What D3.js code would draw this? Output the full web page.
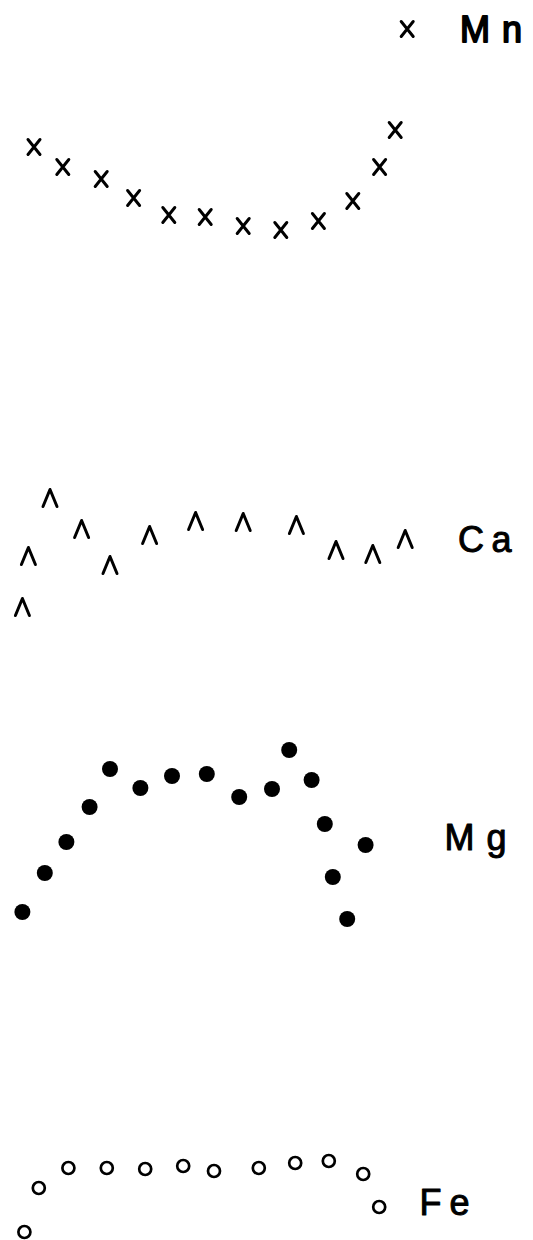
<!DOCTYPE html>
<html>
<head>
<meta charset="utf-8">
<script src="https://cdn.jsdelivr.net/npm/d3@7"></script>
<style>
  html, body { margin: 0; padding: 0; background: #fff; }
  svg { display: block; }
</style>
</head>
<body>
<svg id="chart" width="533" height="1240"></svg>
<script>
// Element profiles across the traverse (distance, relative content)

// Mn — crosses
const mnDist  = [3.5, 10.7, 20.3, 28.4, 37.2, 46.3, 55.8, 65.2, 74.6, 83.2, 89.9, 93.8, 96.8];
const mnValue = [11.3, 9.3, 8.1, 6.2, 4.5, 4.3, 3.4, 3.0, 3.9, 5.9, 9.3, 13.0, 23.1];

// Ca — carets
const caDist  = [0.6, 2.1, 7.5, 15.4, 22.5, 32.4, 43.9, 55.8, 69.1, 79.0, 88.2, 96.3];
const caValue = [1.3, 6.4, 12.2, 9.1, 5.5, 8.5, 9.9, 9.8, 9.5, 7.0, 6.6, 8.1];

// Mg — filled dots
const mgDist  = [0.6, 6.2, 11.6, 17.4, 22.5, 30.1, 38.0, 46.7, 54.8, 63.0, 67.3, 72.9, 76.2, 78.2, 81.8, 86.4];
const mgValue = [1.8, 5.7, 8.8, 12.3, 16.1, 14.2, 15.4, 15.6, 13.3, 14.1, 18.0, 15.0, 10.6, 5.3, 1.1, 8.5];

// Fe — open circles
const feDist  = [1.1, 4.7, 12.1, 21.7, 31.3, 40.8, 48.5, 59.7, 68.8, 77.2, 85.8, 89.8];
const feValue = [0.8, 5.2, 7.2, 7.2, 7.1, 7.4, 6.9, 7.2, 7.7, 7.9, 6.6, 3.3];

const elementNames = ["Mn", "Ca", "Mg", "Fe"];

const svg = d3.select("#chart");

// shared horizontal scale for the traverse
const x = d3.scaleLinear().domain([0, 100]).range([20, 420]);

// each element gets its own vertical band
const yMn = d3.scaleLinear().domain([0, 25]).range([260, 10]);
const yCa = d3.scaleLinear().domain([0, 15]).range([620, 470]);
const yMg = d3.scaleLinear().domain([0, 20]).range([930, 730]);
const yFe = d3.scaleLinear().domain([0, 10]).range([1240, 1140]);

const zip = (a, b) => a.map((d, i) => ({ d, v: b[i] }));

// Mn crosses
const cw = 6, ch = 7.5;
svg.append("g")
  .selectAll("path")
  .data(zip(mnDist, mnValue))
  .join("path")
  .attr("d", p => {
    const cx = x(p.d), cy = yMn(p.v);
    return `M${cx - cw},${cy - ch}L${cx + cw},${cy + ch}M${cx + cw},${cy - ch}L${cx - cw},${cy + ch}`;
  })
  .attr("fill", "none")
  .attr("stroke", "#000")
  .attr("stroke-width", 3)
  .attr("stroke-linecap", "round");

// Ca carets
const aw = 7, ah = 8.5;
svg.append("g")
  .selectAll("path")
  .data(zip(caDist, caValue))
  .join("path")
  .attr("d", p => {
    const cx = x(p.d), cy = yCa(p.v);
    return `M${cx - aw},${cy + ah}L${cx},${cy - ah}L${cx + aw},${cy + ah}`;
  })
  .attr("fill", "none")
  .attr("stroke", "#000")
  .attr("stroke-width", 3)
  .attr("stroke-linecap", "round")
  .attr("stroke-linejoin", "round");

// Mg filled dots
svg.append("g")
  .selectAll("circle")
  .data(zip(mgDist, mgValue))
  .join("circle")
  .attr("cx", p => x(p.d))
  .attr("cy", p => yMg(p.v))
  .attr("r", 8)
  .attr("fill", "#000");

// Fe open circles
svg.append("g")
  .selectAll("circle")
  .data(zip(feDist, feValue))
  .join("circle")
  .attr("cx", p => x(p.d))
  .attr("cy", p => yFe(p.v))
  .attr("r", 6)
  .attr("fill", "#fff")
  .attr("stroke", "#000")
  .attr("stroke-width", 2.7);

// element labels
const labelLayout = {
  Mn: { x: 460,   y: 42,   spacing: 12,  stroke: 1.8 },
  Ca: { x: 458,   y: 552,  spacing: 7.6, stroke: 1.0 },
  Mg: { x: 444.5, y: 850,  spacing: 12,  stroke: 1.0 },
  Fe: { x: 419.5, y: 1215, spacing: 8.1, stroke: 1.0 }
};

svg.append("g")
  .selectAll("text")
  .data(elementNames)
  .join("text")
  .attr("x", n => labelLayout[n].x)
  .attr("y", n => labelLayout[n].y)
  .attr("font-family", "'Liberation Sans', Arial, sans-serif")
  .attr("font-size", 36)
  .attr("letter-spacing", n => labelLayout[n].spacing)
  .attr("fill", "#000")
  .attr("stroke", "#000")
  .attr("stroke-width", n => labelLayout[n].stroke)
  .attr("stroke-linejoin", "round")
  .text(n => n);
</script>
</body>
</html>
